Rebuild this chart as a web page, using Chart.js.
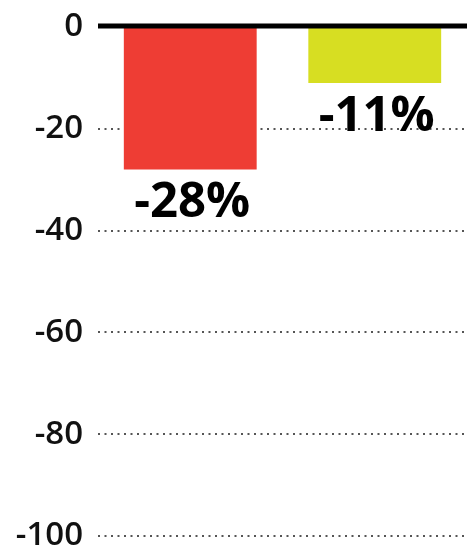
<!DOCTYPE html>
<html>
<head>
<meta charset="utf-8">
<script src="https://cdn.jsdelivr.net/npm/chart.js@4/dist/chart.umd.min.js"></script>
<style>
  html, body { margin: 0; padding: 0; background: #fff; }
  #wrap { width: 467px; height: 548px; }
</style>
</head>
<body>
<div id="wrap"><canvas id="chart"></canvas></div>
<script>
const categories = ["A", "B"];
const values = [-28, -11];
const barColors = ["#ee3d34", "#d7de22"];
const yTicks = [0, -20, -40, -60, -80, -100];

// zero line + value labels under each bar
const extras = {
  id: "extras",
  afterDatasetsDraw(chart) {
    const ctx = chart.ctx;
    const y = chart.scales.y;
    const area = chart.chartArea;
    const zero = y.getPixelForValue(0);
    ctx.save();
    ctx.strokeStyle = "#000";
    ctx.lineWidth = 5;
    ctx.beginPath();
    ctx.moveTo(area.left, zero - 1);
    ctx.lineTo(area.right, zero - 1);
    ctx.stroke();

    ctx.fillStyle = "#000";
    ctx.font = "bold 49px 'Open Sans'";
    ctx.textAlign = "center";
    ctx.textBaseline = "middle";
    chart.getDatasetMeta(0).data.forEach((bar, i) => {
      ctx.fillText(values[i] + "%", bar.x + 2, bar.y + 34);
    });
    ctx.restore();
  }
};

new Chart(document.getElementById("chart"), {
  type: "bar",
  data: {
    labels: categories,
    datasets: [{
      data: values,
      backgroundColor: barColors,
      borderWidth: 0,
      barPercentage: 0.72,
      categoryPercentage: 1
    }]
  },
  options: {
    responsive: true,
    maintainAspectRatio: false,
    animation: false,
    layout: { padding: { top: 27, bottom: 12, right: 0, left: 0 } },
    plugins: {
      legend: { display: false },
      tooltip: { enabled: false }
    },
    scales: {
      x: { display: false },
      y: {
        min: -100,
        max: 0,
        afterBuildTicks(scale) {
          scale.ticks = yTicks.map(v => ({ value: v }));
        },
        afterFit(scale) {
          scale.width = 98;
          scale.paddingTop = 0;
          scale.paddingBottom = 0;
        },
        ticks: {
          padding: 15,
          color: "#111",
          font: { family: "'Open Sans'", size: 33, weight: "600" }
        },
        grid: {
          drawTicks: false,
          lineWidth: 2,
          color: ctx => ctx.tick && ctx.tick.value === 0 ? "rgba(0,0,0,0)" : "#555"
        },
        border: { display: false, dash: [2, 4.5] }
      }
    }
  },
  plugins: [extras]
});
</script>
</body>
</html>
